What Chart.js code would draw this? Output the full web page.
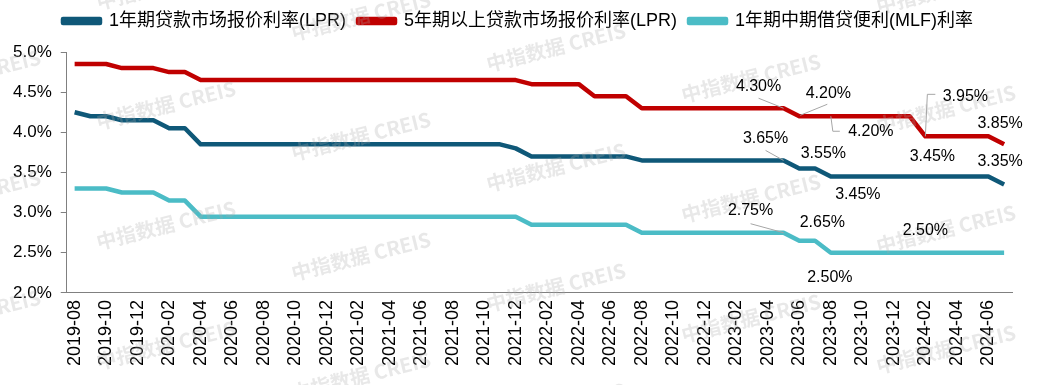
<!DOCTYPE html>
<html>
<head>
<meta charset="utf-8">
<script src="https://cdn.jsdelivr.net/npm/chart.js@4"></script>
<style>
  body { margin: 0; background: #fff; }
  #wrap { width: 1042px; height: 385px; }
</style>
</head>
<body>
<div id="wrap"><canvas id="rateChart"></canvas></div>
<script>
const months = [
    "2019-08", "2019-09", "2019-10", "2019-11", "2019-12",
    "2020-01", "2020-02", "2020-03", "2020-04", "2020-05", "2020-06", "2020-07", "2020-08", "2020-09", "2020-10", "2020-11", "2020-12",
    "2021-01", "2021-02", "2021-03", "2021-04", "2021-05", "2021-06", "2021-07", "2021-08", "2021-09", "2021-10", "2021-11", "2021-12",
    "2022-01", "2022-02", "2022-03", "2022-04", "2022-05", "2022-06", "2022-07", "2022-08", "2022-09", "2022-10", "2022-11", "2022-12",
    "2023-01", "2023-02", "2023-03", "2023-04", "2023-05", "2023-06", "2023-07", "2023-08", "2023-09", "2023-10", "2023-11", "2023-12",
    "2024-01", "2024-02", "2024-03", "2024-04", "2024-05", "2024-06", "2024-07"
];

const seriesNames = ["1年期贷款市场报价利率(LPR)", "5年期以上贷款市场报价利率(LPR)", "1年期中期借贷便利(MLF)利率"];

// 1年期LPR
const lpr1y = [
    4.25, 4.20, 4.20, 4.15, 4.15,
    4.15, 4.05, 4.05, 3.85, 3.85, 3.85, 3.85, 3.85, 3.85, 3.85, 3.85, 3.85,
    3.85, 3.85, 3.85, 3.85, 3.85, 3.85, 3.85, 3.85, 3.85, 3.85, 3.85, 3.80,
    3.70, 3.70, 3.70, 3.70, 3.70, 3.70, 3.70, 3.65, 3.65, 3.65, 3.65, 3.65,
    3.65, 3.65, 3.65, 3.65, 3.65, 3.55, 3.55, 3.45, 3.45, 3.45, 3.45, 3.45,
    3.45, 3.45, 3.45, 3.45, 3.45, 3.45, 3.35
];
// 5年期以上LPR
const lpr5y = [
    4.85, 4.85, 4.85, 4.80, 4.80,
    4.80, 4.75, 4.75, 4.65, 4.65, 4.65, 4.65, 4.65, 4.65, 4.65, 4.65, 4.65,
    4.65, 4.65, 4.65, 4.65, 4.65, 4.65, 4.65, 4.65, 4.65, 4.65, 4.65, 4.65,
    4.60, 4.60, 4.60, 4.60, 4.45, 4.45, 4.45, 4.30, 4.30, 4.30, 4.30, 4.30,
    4.30, 4.30, 4.30, 4.30, 4.30, 4.20, 4.20, 4.20, 4.20, 4.20, 4.20, 4.20,
    4.20, 3.95, 3.95, 3.95, 3.95, 3.95, 3.85
];
// 1年期MLF
const mlf1y = [
    3.30, 3.30, 3.30, 3.25, 3.25,
    3.25, 3.15, 3.15, 2.95, 2.95, 2.95, 2.95, 2.95, 2.95, 2.95, 2.95, 2.95,
    2.95, 2.95, 2.95, 2.95, 2.95, 2.95, 2.95, 2.95, 2.95, 2.95, 2.95, 2.95,
    2.85, 2.85, 2.85, 2.85, 2.85, 2.85, 2.85, 2.75, 2.75, 2.75, 2.75, 2.75,
    2.75, 2.75, 2.75, 2.75, 2.75, 2.65, 2.65, 2.50, 2.50, 2.50, 2.50, 2.50,
    2.50, 2.50, 2.50, 2.50, 2.50, 2.50, 2.50
];

const yTicks = [2.0, 2.5, 3.0, 3.5, 4.0, 4.5, 5.0];

const colors = ["#0F5878", "#C00000", "#4BBCC6"];

// which points carry a value label (offsets/leader lines are only styling)
const pointLabels = [
    { ds: 1, i: 45, dx: -25, dy: -22, leader: [[-25, -10], [0, 0]] },
    { ds: 1, i: 46, dx: 29, dy: -23, leader: [[1, -1], [28, -12]] },
    { ds: 1, i: 48, dx: 40, dy: 15, leader: [[0, 0], [2, 15], [9, 15]] },
    { ds: 1, i: 54, dx: 40, dy: -40, leader: [[0, 0], [2, -42], [10, -42]] },
    { ds: 1, i: 59, dx: -4, dy: -21 },
    { ds: 0, i: 45, dx: -18, dy: -22, leader: [[-18, -10], [0, 0]] },
    { ds: 0, i: 46, dx: 24, dy: -15 },
    { ds: 0, i: 48, dx: 27, dy: 18 },
    { ds: 0, i: 54, dx: 7, dy: -20 },
    { ds: 0, i: 59, dx: -4, dy: -23 },
    { ds: 2, i: 45, dx: -33, dy: -22, leader: [[-33, -9], [0, 0]] },
    { ds: 2, i: 46, dx: 23, dy: -18 },
    { ds: 2, i: 48, dx: -1, dy: 25 },
    { ds: 2, i: 54, dx: 0, dy: -22 }
];

const FONT = 'Arial, "Liberation Sans", "Noto Sans CJK SC", sans-serif';
Chart.defaults.font.family = FONT;
Chart.defaults.color = "#000";

const watermark = {
    id: "watermark",
    afterDatasetsDraw(chart) {
        const ctx = chart.ctx;
        ctx.save();
        ctx.font = 'bold 20px "Noto Sans CJK SC", ' + FONT;
        ctx.fillStyle = "rgba(170,170,170,0.27)";
        ctx.textAlign = "center";
        ctx.textBaseline = "middle";
        for (let k = -1; k <= 5; k++) {
            const x = 166 + 195 * k;
            const base = ((105 + 31 * k) % 120 + 120) % 120;
            for (let y = base - 120; y < 460; y += 120) {
                ctx.save();
                ctx.translate(x, y);
                ctx.rotate(-14 * Math.PI / 180);
                ctx.fillText("中指数据 CREIS", 0, 0);
                ctx.restore();
            }
        }
        ctx.restore();
    }
};

const valueLabels = {
    id: "valueLabels",
    afterDraw(chart) {
        const ctx = chart.ctx;
        const xs = chart.scales.x, ys = chart.scales.y;
        ctx.save();
        ctx.font = "16px " + FONT;
        ctx.fillStyle = "#000";
        ctx.textAlign = "center";
        ctx.textBaseline = "middle";
        pointLabels.forEach(p => {
            const v = chart.data.datasets[p.ds].data[p.i];
            const px = xs.getPixelForValue(p.i);
            const py = ys.getPixelForValue(v);
            if (p.leader) {
                ctx.strokeStyle = "#A6A6A6";
                ctx.lineWidth = 1;
                ctx.beginPath();
                p.leader.forEach((pt, j) => {
                    if (j === 0) ctx.moveTo(px + pt[0], py + pt[1]);
                    else ctx.lineTo(px + pt[0], py + pt[1]);
                });
                ctx.stroke();
            }
            ctx.fillText(v.toFixed(2) + "%", px + p.dx, py + p.dy);
        });
        ctx.restore();
    }
};

const legendSpace = {
    id: "legendSpace",
    beforeInit(chart) {
        const fit = chart.legend.fit;
        chart.legend.fit = function () {
            fit.bind(chart.legend)();
            this.height += 12;
        };
    },
    afterLayout(chart) {
        // nudge the legend a little to the right, like the original
        chart.legend.left += 10;
        chart.legend.right += 10;
    }
};

const ctx = document.getElementById("rateChart").getContext("2d");

new Chart(ctx, {
    type: "line",
    data: {
        labels: months,
        datasets: [lpr1y, lpr5y, mlf1y].map((d, k) => ({
            label: seriesNames[k],
            data: d,
            borderColor: colors[k],
            backgroundColor: colors[k],
            borderWidth: 4.5,
            borderJoinStyle: "round",
            pointRadius: 0,
            tension: 0
        }))
    },
    options: {
        responsive: true,
        maintainAspectRatio: false,
        animation: false,
        layout: { padding: { left: 4, right: 30, top: 0, bottom: 12 } },
        plugins: {
            legend: {
                position: "top",
                labels: {
                    boxWidth: 37,
                    boxHeight: 4,
                    padding: 12,
                    color: "#000",
                    font: { size: 18 }
                }
            },
            tooltip: { enabled: false }
        },
        scales: {
            x: {
                offset: true,
                grid: { display: false, drawTicks: false },
                border: { display: true, color: "#808080", width: 1 },
                ticks: {
                    autoSkip: false,
                    maxRotation: 90,
                    minRotation: 90,
                    padding: 7,
                    color: "#000",
                    font: { size: 18 },
                    callback: function (val, i) {
                        return i % 2 === 0 ? this.getLabelForValue(val) : "";
                    }
                }
            },
            y: {
                min: 2,
                max: 5,
                afterBuildTicks: axis => { axis.ticks = yTicks.map(v => ({ value: v })); },
                grid: { drawOnChartArea: false, drawTicks: true, tickLength: 6, color: "#808080" },
                border: { display: true, color: "#808080", width: 1 },
                ticks: {
                    padding: 9,
                    color: "#000",
                    font: { size: 17 },
                    callback: v => v.toFixed(1) + "%"
                }
            }
        }
    },
    plugins: [watermark, valueLabels, legendSpace]
});
</script>
</body>
</html>
